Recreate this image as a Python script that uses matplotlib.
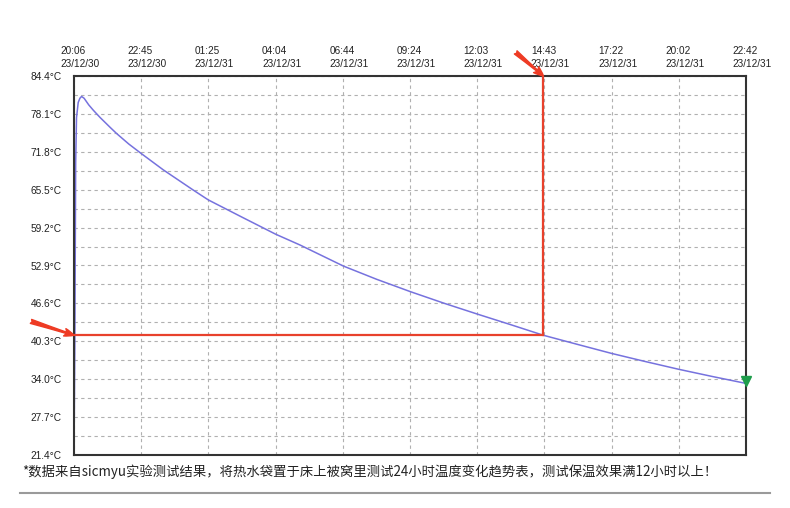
import matplotlib
matplotlib.use("Agg")
import matplotlib.pyplot as plt
from matplotlib.lines import Line2D
from matplotlib.transforms import ScaledTranslation
import numpy as np

# minutes since 20:06 on 23/12/30, temperature in degC
minutes = [0, 2, 4, 6, 10, 14, 18, 24, 35, 46, 62, 70, 86, 101, 130, 159,
           212, 283, 319, 400, 479, 537, 640, 719, 799, 880, 959, 1040,
           1115, 1195, 1276, 1356, 1436, 1516, 1596]
temps = [21.4, 40.0, 70.0, 77.5, 80.0, 80.7, 81.0, 80.7, 79.6, 78.7, 77.5,
         76.95, 75.85, 74.85, 73.1, 71.55, 68.8, 65.45, 63.8, 60.9, 58.1, 56.3,
         52.8, 50.6, 48.55, 46.6, 44.8, 43.0, 41.3, 39.8, 38.3, 36.95, 35.65,
         34.45, 33.3]

tick_labels = ["20:06\n23/12/30", "22:45\n23/12/30", "01:25\n23/12/31",
               "04:04\n23/12/31", "06:44\n23/12/31", "09:24\n23/12/31",
               "12:03\n23/12/31", "14:43\n23/12/31", "17:22\n23/12/31",
               "20:02\n23/12/31", "22:42\n23/12/31"]
y_ticks = [21.4, 27.7, 34.0, 40.3, 46.6, 52.9, 59.2, 65.5, 71.8, 78.1, 84.4]

mark_time = 1115   # 14:43
mark_temp = 41.3

footer = "*数据来自sicmyu实验测试结果，将热水袋置于床上被窝里测试24小时温度变化趋势表，测试保温效果满12小时以上！"

fig = plt.figure(figsize=(7.9, 5.08), dpi=100)
ax = fig.add_axes([74 / 790, 1 - 455 / 508, 672 / 790, 379 / 508])

ax.set_xlim(0, 1596)
ax.set_ylim(21.4, 84.4)

# ticks and grid
x_ticks = np.linspace(0, 1596, len(tick_labels))
ax.set_xticks(x_ticks)
ax.set_xticklabels(tick_labels, multialignment="left", linespacing=1.35,
                   fontsize=7.2, family="Liberation Sans", color="#222222")
ax.set_yticks(y_ticks)
ax.set_yticklabels([f"{v:.1f}°C" for v in y_ticks], fontsize=7.3,
                   family="Liberation Sans", color="#222222")
minor = [(a + b) / 2 for a, b in zip(y_ticks[:-1], y_ticks[1:])]
ax.set_yticks(minor, minor=True)
ax.xaxis.tick_top()
ax.tick_params(axis="both", which="both", length=0)
ax.tick_params(axis="y", pad=9)
ax.tick_params(axis="x", pad=5)
for lab in ax.get_xticklabels():
    lab.set_transform(lab.get_transform() + ScaledTranslation(6 / 100, 0, fig.dpi_scale_trans))

ax.grid(True, axis="y", which="both", color="#b0b0b0", linestyle=(0, (3, 3)), linewidth=0.8)
ax.grid(True, axis="x", which="major", color="#b0b0b0", linestyle=(0, (3, 3)), linewidth=0.8)
ax.set_axisbelow(True)

for s in ax.spines.values():
    s.set_color("#333333")
    s.set_linewidth(1.5)

# curve
ax.plot(minutes, temps, color="#7672de", linewidth=1.1, clip_on=False)
ax.plot(minutes[-1:], [temps[-1] + 0.4], marker="v", color="#1f9e4c",
        markersize=6.5, linestyle="none", clip_on=False, zorder=5)

# red marker lines
ax.plot([0, mark_time], [mark_temp, mark_temp], color="#e8412c", linewidth=1.6, zorder=4)
ax.plot([mark_time, mark_time], [mark_temp, 84.4], color="#e8412c", linewidth=1.6, zorder=4)

arrow = dict(arrowstyle="fancy,head_length=0.7,head_width=0.55,tail_width=0.3",
             color="#ee3b24", mutation_scale=10, shrinkA=0, shrinkB=0)
ax.annotate("", xy=(0, mark_temp), xytext=(-31, 10), textcoords="offset points",
            arrowprops=arrow, annotation_clip=False)
ax.annotate("", xy=(mark_time, 84.4), xytext=(-20, 17), textcoords="offset points",
            arrowprops=arrow, annotation_clip=False)

# footer
fig.text(22 / 790, 1 - 472 / 508, footer, fontsize=9.6, va="center", ha="left",
         family=["Noto Sans CJK SC", "DejaVu Sans"], color="#222222")
fig.add_artist(Line2D([20 / 790, 770 / 790], [1 - 493 / 508, 1 - 493 / 508],
                      transform=fig.transFigure, color="#9a9a9a", linewidth=1.5))

fig.savefig("out.png", dpi=100, facecolor="white")
